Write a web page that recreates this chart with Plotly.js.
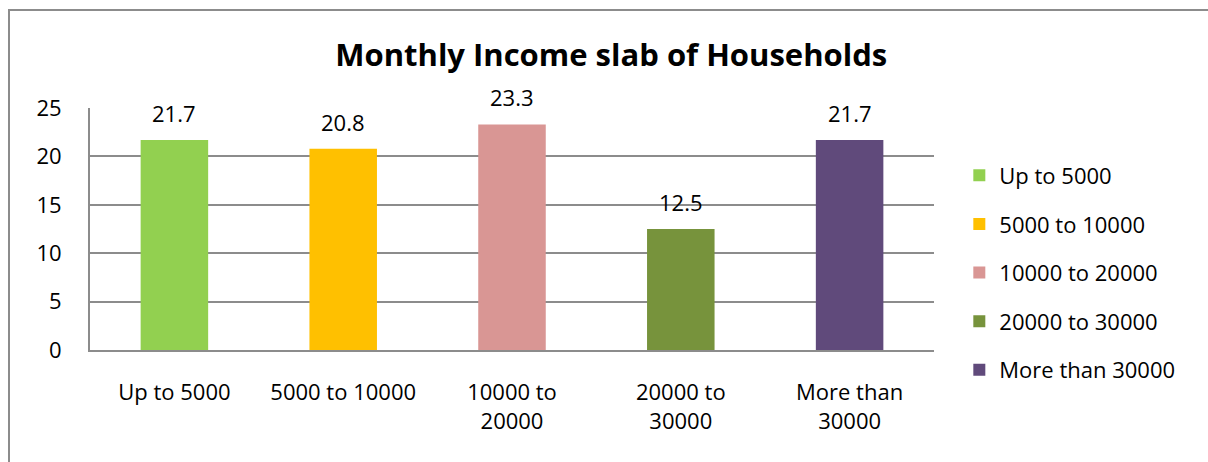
<!DOCTYPE html>
<html>
<head>
<meta charset="utf-8">
<script src="https://cdn.plot.ly/plotly-3.0.1.min.js"></script>
<style>
  html, body { margin: 0; padding: 0; background: #fff; }
  #chart { position: absolute; left: 0; top: 0; width: 1208px; height: 462px; }
  #frame { position: absolute; left: 8px; top: 9px; width: 1300px; height: 600px;
           border-left: 2px solid #8c8c8c; border-top: 2px solid #8c8c8c; pointer-events: none; }
</style>
</head>
<body>
<div id="chart"></div>
<div id="frame"></div>
<script>
const categories = ["Up to 5000", "5000 to 10000", "10000 to 20000", "20000 to 30000", "More than 30000"];
const tickLabels = ["Up to 5000", "5000 to 10000", "10000 to<br>20000", "20000 to<br>30000", "More than<br>30000"];
const values = [21.7, 20.8, 23.3, 12.5, 21.7];
const colors = ["#92D050", "#FFC000", "#D99694", "#77933C", "#604A7B"];
const yTicks = [0, 5, 10, 15, 20, 25];

const FONT = "Open Sans, Noto Sans, sans-serif";
const FS = 22;

const traces = categories.map((c, i) => ({
  type: "bar",
  name: c,
  x: [c],
  y: [values[i]],
  width: 0.4,
  marker: { color: colors[i] },
  legendgroup: "g" + i,
  hoverinfo: "x+y"
}));

const annotations = categories.map((c, i) => ({
  x: c, y: values[i], xref: "x", yref: "y",
  text: String(values[i]),
  showarrow: false,
  yshift: 27,
  font: { family: FONT, size: FS, color: "#000" }
}));

const layout = {
  width: 1208, height: 462,
  margin: { l: 90, r: 274, t: 108, b: 112 },
  paper_bgcolor: "#fff", plot_bgcolor: "#fff",
  barmode: "overlay",
  title: {
    text: "<b>Monthly Income slab of Households</b>",
    font: { family: FONT, size: 31, color: "#000" },
    x: 0.506, xanchor: "center", y: 0.88, yanchor: "middle"
  },
  xaxis: {
    type: "category",
    categoryarray: categories, categoryorder: "array",
    tickvals: categories, ticktext: tickLabels,
    showline: true, linecolor: "#8c8c8c", linewidth: 2,
    showgrid: false, ticks: "", ticklabelstandoff: 22,
    tickfont: { family: FONT, size: FS, color: "#000" },
    fixedrange: true
  },
  yaxis: {
    range: [0, 25], tickvals: yTicks,
    showline: true, linecolor: "#8c8c8c", linewidth: 2,
    showgrid: true, gridcolor: "#8c8c8c", gridwidth: 2,
    zeroline: false, ticks: "", ticklabelstandoff: 22,
    tickfont: { family: FONT, size: FS, color: "#000" },
    fixedrange: true
  },
  showlegend: true,
  legend: {
    x: 1.03, xanchor: "left", y: 0.32, yanchor: "middle",
    font: { family: FONT, size: FS, color: "#000" },
    tracegroupgap: 17, itemwidth: 30,
    bgcolor: "rgba(0,0,0,0)"
  },
  annotations: annotations
};

Plotly.newPlot("chart", traces, layout, { displayModeBar: false, staticPlot: true });
</script>
</body>
</html>
